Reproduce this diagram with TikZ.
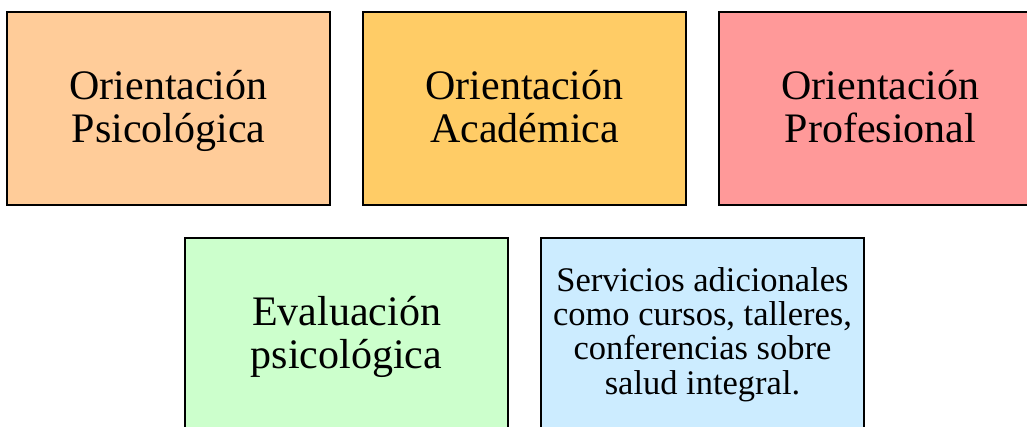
\documentclass[tikz,border=0pt]{standalone}
\usepackage{fontspec}
\setmainfont{Liberation Serif}
\usepackage{tikz}
\usetikzlibrary{positioning,calc}

\definecolor{durazno}{HTML}{FFCC99}
\definecolor{ambar}{HTML}{FFCC66}
\definecolor{rosado}{HTML}{FF9999}
\definecolor{verdeclaro}{HTML}{CCFFCC}
\definecolor{celeste}{HTML}{CCECFF}

\begin{document}
\begin{tikzpicture}[x=1pt,y=-1pt,
        caja/.style={draw=black, line width=2pt, minimum width=323pt, minimum height=193pt,
            align=center, inner sep=0pt, font=\fontsize{42}{42.5}\selectfont,
            execute at begin node={\rule{0pt}{78.5pt}},
            execute at end node={\rule[-11.5pt]{0pt}{11.5pt}}},
        cajachica/.style={caja, font=\fontsize{34.5}{34.4}\selectfont,
            execute at begin node={\rule{0pt}{131pt}},
            execute at end node={\rule[-11.6pt]{0pt}{11.6pt}}}]
        \useasboundingbox (0,0) rectangle (1027,426); % marco

        % fila de arriba
        \node[caja, fill=durazno] (psico) at (168.5,108.5) {Orientación\\Psicológica};
        \node[caja, fill=ambar, right=31pt of psico] (acad) {Orientación\\Académica};
        \node[caja, fill=rosado, right=31pt of acad] (prof) {Orientación\\Profesional};

        % fila de abajo
        \coordinate (m1) at ($(psico.south)!0.5!(acad.south)$);
        \coordinate (m2) at ($(acad.south)!0.5!(prof.south)$);
        \node[caja, fill=verdeclaro, below=31pt of m1] (eval) {Evaluación\\psicológica};
        \node[cajachica, fill=celeste, below=31pt of m2] (serv) {Servicios adicionales\\como cursos, talleres,\\conferencias sobre\\salud integral.};
    \end{tikzpicture}
\end{document}
